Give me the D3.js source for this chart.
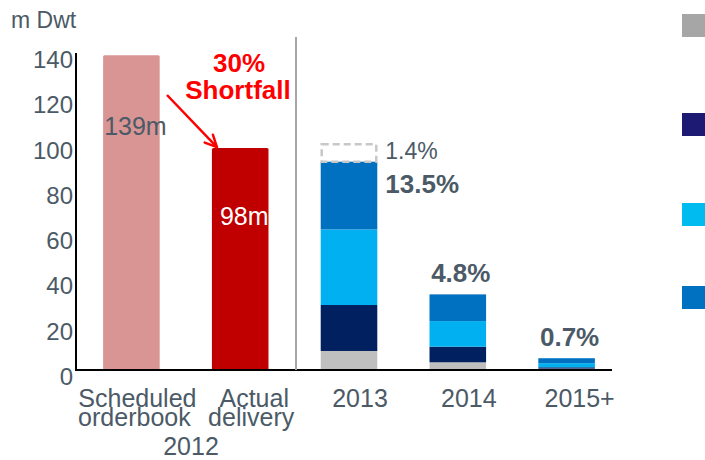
<!DOCTYPE html>
<html>
<head>
<meta charset="utf-8">
<script src="https://cdn.jsdelivr.net/npm/d3@7"></script>
<style>
  body { margin: 0; background: #fff; }
  svg { display: block; font-family: "Liberation Sans", Arial, sans-serif; }
</style>
</head>
<body>
<div id="chart"></div>
<script>
// ---- data ----
const categories = ["Scheduled orderbook", "Actual delivery", "2013", "2014", "2015+"];
const catLines = [["Scheduled", "orderbook"], ["Actual", "delivery"], ["2013"], ["2014"], ["2015+"]];
const yTicks = [0, 20, 40, 60, 80, 100, 120, 140];

const scheduled2012 = 139;
const actual2012 = 98;

const stackYears = ["2013", "2014", "2015+"];
const greyVals = [8.4, 3.4, 0.6];
const navyVals = [20.3, 6.9, 0.6];
const cyanVals = [33.4, 11.3, 1.8];
const blueVals = [29.9, 11.8, 2.2];
const dashedExtra = 7.7;              // 2013 dashed slice (1.4%)
const topLabels = ["13.5%", "4.8%", "0.7%"];

const W = 705, H = 460;
const textCol = "#4b5a66";
const segColors = ["#bfbfbf", "#002060", "#00b0f0", "#0070c0"];
const legendColors = ["#a6a6a6", "#1c1a72", "#00bbf0", "#0070c0"];

const svg = d3.select("#chart").append("svg").attr("width", W).attr("height", H);

const x = d3.scaleBand().domain(categories).range([77, 621]).paddingInner(0.48).paddingOuter(0.24);
const y = d3.scaleLinear().domain([0, 140]).range([370, 53]);

// y tick labels (sit a little below their value, as in the original)
svg.append("g").selectAll("text").data(yTicks).join("text")
  .attr("x", 73).attr("y", d => y(d) + 15)
  .attr("text-anchor", "end").attr("font-size", 24).attr("fill", textCol)
  .text(d => d);

svg.append("text").attr("x", 11).attr("y", 28).attr("font-size", 23).attr("fill", textCol).text("m Dwt");

// 2012 bars
svg.append("rect").attr("x", x(categories[0])).attr("width", x.bandwidth())
  .attr("y", y(scheduled2012)).attr("height", y(0) - y(scheduled2012))
  .attr("fill", "#d99594").attr("rx", 1.5);
svg.append("rect").attr("x", x(categories[1])).attr("width", x.bandwidth())
  .attr("y", y(actual2012)).attr("height", y(0) - y(actual2012))
  .attr("fill", "#c00000").attr("rx", 1.5);

svg.append("text").attr("x", x(categories[0]) + x.bandwidth() / 2 + 4).attr("y", 135)
  .attr("text-anchor", "middle").attr("font-size", 25).attr("fill", textCol).text(scheduled2012 + "m");
svg.append("text").attr("x", x(categories[1]) + x.bandwidth() / 2 + 4).attr("y", 225)
  .attr("text-anchor", "middle").attr("font-size", 25).attr("fill", "#fff").text(actual2012 + "m");

// stacked forecast bars
const rows = stackYears.map((yr, i) => ({year: yr, grey: greyVals[i], navy: navyVals[i], cyan: cyanVals[i], blue: blueVals[i]}));
const keys = ["grey", "navy", "cyan", "blue"];
const stacked = d3.stack().keys(keys)(rows);

svg.append("g").selectAll("g").data(stacked).join("g")
  .attr("fill", (d, i) => segColors[i])
  .selectAll("rect").data(d => d).join("rect")
  .attr("x", d => x(d.data.year)).attr("width", x.bandwidth())
  .attr("y", d => y(d[1])).attr("height", d => y(d[0]) - y(d[1]));

// dashed slice on top of 2013
const top2013 = stacked[stacked.length - 1][0][1];
svg.append("rect").attr("x", x("2013") + 1).attr("width", x.bandwidth() - 2)
  .attr("y", y(top2013 + dashedExtra)).attr("height", y(top2013) - y(top2013 + dashedExtra))
  .attr("fill", "none").attr("stroke", "#c8c8c8").attr("stroke-width", 2.5)
  .attr("stroke-dasharray", "7,4");

svg.append("text").attr("x", x("2013") + x.bandwidth() + 8).attr("y", y(top2013 + dashedExtra) + 15)
  .attr("font-size", 23).attr("fill", textCol).text("1.4%");

// percentage labels
svg.append("text").attr("x", x("2013") + x.bandwidth() + 8).attr("y", 193)
  .attr("font-size", 26).attr("font-weight", "bold").attr("fill", textCol).text(topLabels[0]);
stackYears.slice(1).forEach((yr, j) => {
  const tot = stacked[stacked.length - 1][j + 1][1];
  svg.append("text").attr("x", x(yr) + x.bandwidth() / 2 + 3).attr("y", y(tot) - 12)
    .attr("text-anchor", "middle").attr("font-size", 26).attr("font-weight", "bold")
    .attr("fill", textCol).text(topLabels[j + 1]);
});

// axes lines
svg.append("line").attr("x1", 76).attr("x2", 76).attr("y1", 53).attr("y2", y(0))
  .attr("stroke", "#000").attr("stroke-width", 2);
svg.append("line").attr("x1", 75).attr("x2", 612).attr("y1", y(0)).attr("y2", y(0))
  .attr("stroke", "#000").attr("stroke-width", 2);
svg.append("line").attr("x1", 296).attr("x2", 296).attr("y1", 37).attr("y2", y(0))
  .attr("stroke", "#a6a6a6").attr("stroke-width", 2);

// category labels
const labelShift = [6, 14, 11, 11, 13];
categories.forEach((c, i) => {
  const t = svg.append("text").attr("text-anchor", "middle").attr("font-size", 25).attr("fill", textCol);
  catLines[i].forEach((ln, k) => {
    t.append("tspan").attr("x", x(c) + x.bandwidth() / 2 + labelShift[i] - (k ? 3 : 0))
      .attr("y", 407 + k * 19).text(ln);
  });
});
svg.append("text").attr("x", 191).attr("y", 455).attr("text-anchor", "middle")
  .attr("font-size", 25).attr("fill", textCol).text("2012");

// shortfall annotation
svg.append("text").attr("x", 239).attr("y", 72).attr("text-anchor", "middle")
  .attr("font-size", 26).attr("font-weight", "bold").attr("fill", "#ff0000").text("30%");
svg.append("text").attr("x", 238).attr("y", 99).attr("text-anchor", "middle")
  .attr("font-size", 26).attr("font-weight", "bold").attr("fill", "#ff0000").text("Shortfall");

const ax0 = 167, ay0 = 95;
const ax1 = x(categories[1]) + 5, ay1 = y(actual2012) - 1;
svg.append("line").attr("x1", ax0).attr("y1", ay0).attr("x2", ax1).attr("y2", ay1)
  .attr("stroke", "#ff0000").attr("stroke-width", 2.5);
const ang = Math.atan2(ay1 - ay0, ax1 - ax0);
const head = 13;
[-0.45, 0.45].forEach(da => {
  svg.append("line").attr("x1", ax1).attr("y1", ay1)
    .attr("x2", ax1 - head * Math.cos(ang + da)).attr("y2", ay1 - head * Math.sin(ang + da))
    .attr("stroke", "#ff0000").attr("stroke-width", 2.5).attr("stroke-linecap", "round");
});

// legend swatches (labels fall outside the frame)
const legendY = [14, 113, 203, 286];
svg.append("g").selectAll("rect").data(legendColors).join("rect")
  .attr("x", 682).attr("y", (d, i) => legendY[i]).attr("width", 24).attr("height", 23)
  .attr("fill", d => d);
</script>
</body>
</html>
